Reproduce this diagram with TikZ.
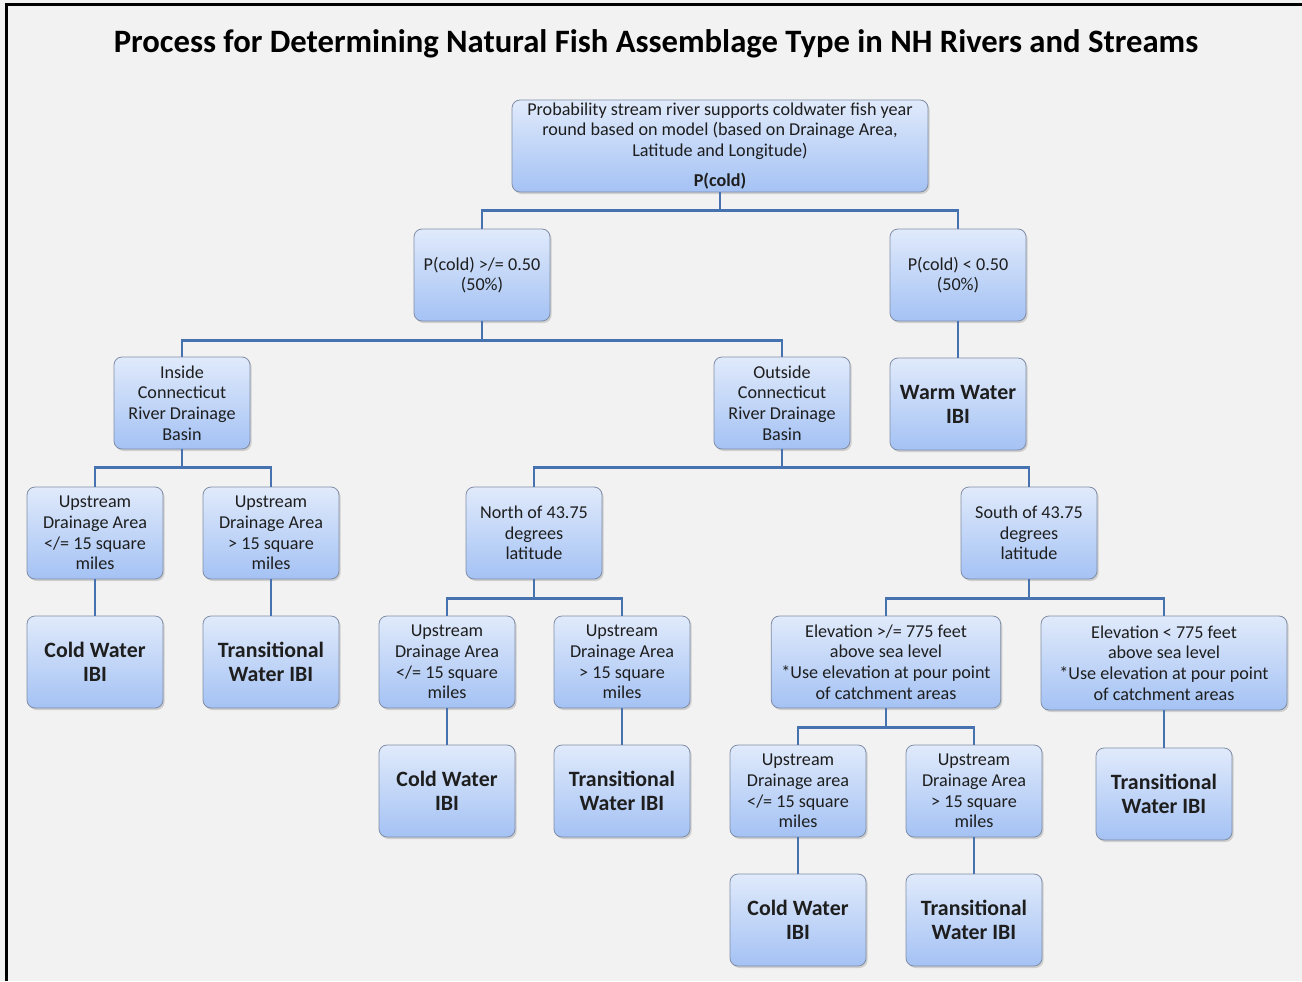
\documentclass[tikz,border=0pt]{standalone}
\usepackage{fontspec}
\setmainfont{Carlito}
\usetikzlibrary{shadows}

\definecolor{boxtop}{RGB}{224,234,251}
\definecolor{boxbot}{RGB}{164,194,244}
\definecolor{boxline}{RGB}{128,141,166}
\definecolor{linkblue}{RGB}{70,114,176}
\definecolor{pagegray}{RGB}{242,242,242}
\definecolor{textdark}{RGB}{30,30,30}

\begin{document}
\begin{tikzpicture}[x=0.75pt,y=-0.75pt,
  box/.style={draw=boxline, line width=0.6pt, rounded corners=6pt,
    top color=boxtop, bottom color=boxbot,
    drop shadow={opacity=0.3,shadow xshift=1.2pt,shadow yshift=-1.5pt},
    minimum width=102pt, minimum height=69pt, align=center, inner sep=1pt,
    text=textdark, font=\fontsize{13.6}{15.4}\selectfont},
  ibi/.style={box, font=\fontsize{16.4}{18}\selectfont\bfseries},
  link/.style={draw=linkblue, line width=2.2pt}]

\fill[pagegray] (0,0) rectangle (1302,981);
\useasboundingbox (0,0) rectangle (1302,981);
\draw[line width=1.6pt] (6.5,981) -- (6.5,4.5) -- (1302,4.5);

\node[text=black] (title) at (656,44) {\fontsize{24.5}{28}\selectfont\bfseries Process for Determining Natural Fish Assemblage Type in NH Rivers and Streams};

% first level
\node[box, minimum width=312pt] (model) at (720,146) {Probability stream river supports coldwater fish year\\round based on model (based on Drainage Area,\\Latitude and Longitude)\\[7pt]\textbf{P(cold)}};
\node[box] (phigh) at (482,275) {P(cold) >/= 0.50\\(50\%)};
\node[box] (plow) at (958,275) {P(cold) < 0.50\\(50\%)};

% basins
\node[box] (inside) at (182,403) {Inside\\Connecticut\\River Drainage\\Basin};
\node[box] (outside) at (782,403) {Outside\\Connecticut\\River Drainage\\Basin};
\node[ibi] (warm) at (958,404) {Warm Water\\IBI};

% inside basin
\node[box] (insmall) at (95,533) {Upstream\\Drainage Area\\</= 15 square\\miles};
\node[box] (inlarge) at (271,533) {Upstream\\Drainage Area\\> 15 square\\miles};
\node[ibi] (incold) at (95,662) {Cold Water\\IBI};
\node[ibi] (intrans) at (271,662) {Transitional\\Water IBI};

% outside basin
\node[box] (north) at (534,533) {North of 43.75\\degrees\\latitude};
\node[box] (south) at (1029,533) {South of 43.75\\degrees\\latitude};

\node[box] (nsmall) at (447,662) {Upstream\\Drainage Area\\</= 15 square\\miles};
\node[box] (nlarge) at (622,662) {Upstream\\Drainage Area\\> 15 square\\miles};
\node[ibi] (ncold) at (447,791) {Cold Water\\IBI};
\node[ibi] (ntrans) at (622,791) {Transitional\\Water IBI};

\node[box, minimum width=172pt] (elevhigh) at (886,662) {Elevation >/= 775 feet\\above sea level\\*Use elevation at pour point\\of catchment areas};
\node[box, minimum width=184.5pt, minimum height=70.5pt] (elevlow) at (1164,663) {Elevation < 775 feet\\above sea level\\*Use elevation at pour point\\of catchment areas};
\node[ibi] (strans) at (1164,794) {Transitional\\Water IBI};

\node[box] (ssmall) at (798,791) {Upstream\\Drainage area\\</= 15 square\\miles};
\node[box] (slarge) at (974,791) {Upstream\\Drainage Area\\> 15 square\\miles};
\node[ibi] (scold) at (798,920) {Cold Water\\IBI};
\node[ibi] (sstrans) at (974,920) {Transitional\\Water IBI};

% connectors
\draw[link] (model.south) -- ++(0,18) -| (phigh.north);
\draw[link] (model.south) -- ++(0,18) -| (plow.north);
\draw[link] (plow) -- (warm);
\draw[link] (phigh.south) -- ++(0,19) -| (inside.north);
\draw[link] (phigh.south) -- ++(0,19) -| (outside.north);
\draw[link] (inside.south) -- ++(0,18) -| (insmall.north);
\draw[link] (inside.south) -- ++(0,18) -| (inlarge.north);
\draw[link] (insmall) -- (incold);
\draw[link] (inlarge) -- (intrans);
\draw[link] (outside.south) -- ++(0,18) -| (north.north);
\draw[link] (outside.south) -- ++(0,18) -| (south.north);
\draw[link] (north.south) -- ++(0,19) -| (nsmall.north);
\draw[link] (north.south) -- ++(0,19) -| (nlarge.north);
\draw[link] (nsmall) -- (ncold);
\draw[link] (nlarge) -- (ntrans);
\draw[link] (south.south) -- ++(0,19) -| (elevhigh.north);
\draw[link] (south.south) -- ++(0,19) -| (elevlow.north);
\draw[link] (elevlow) -- (strans);
\draw[link] (elevhigh.south) -- ++(0,19) -| (ssmall.north);
\draw[link] (elevhigh.south) -- ++(0,19) -| (slarge.north);
\draw[link] (ssmall) -- (scold);
\draw[link] (slarge) -- (sstrans);
\end{tikzpicture}
\end{document}
